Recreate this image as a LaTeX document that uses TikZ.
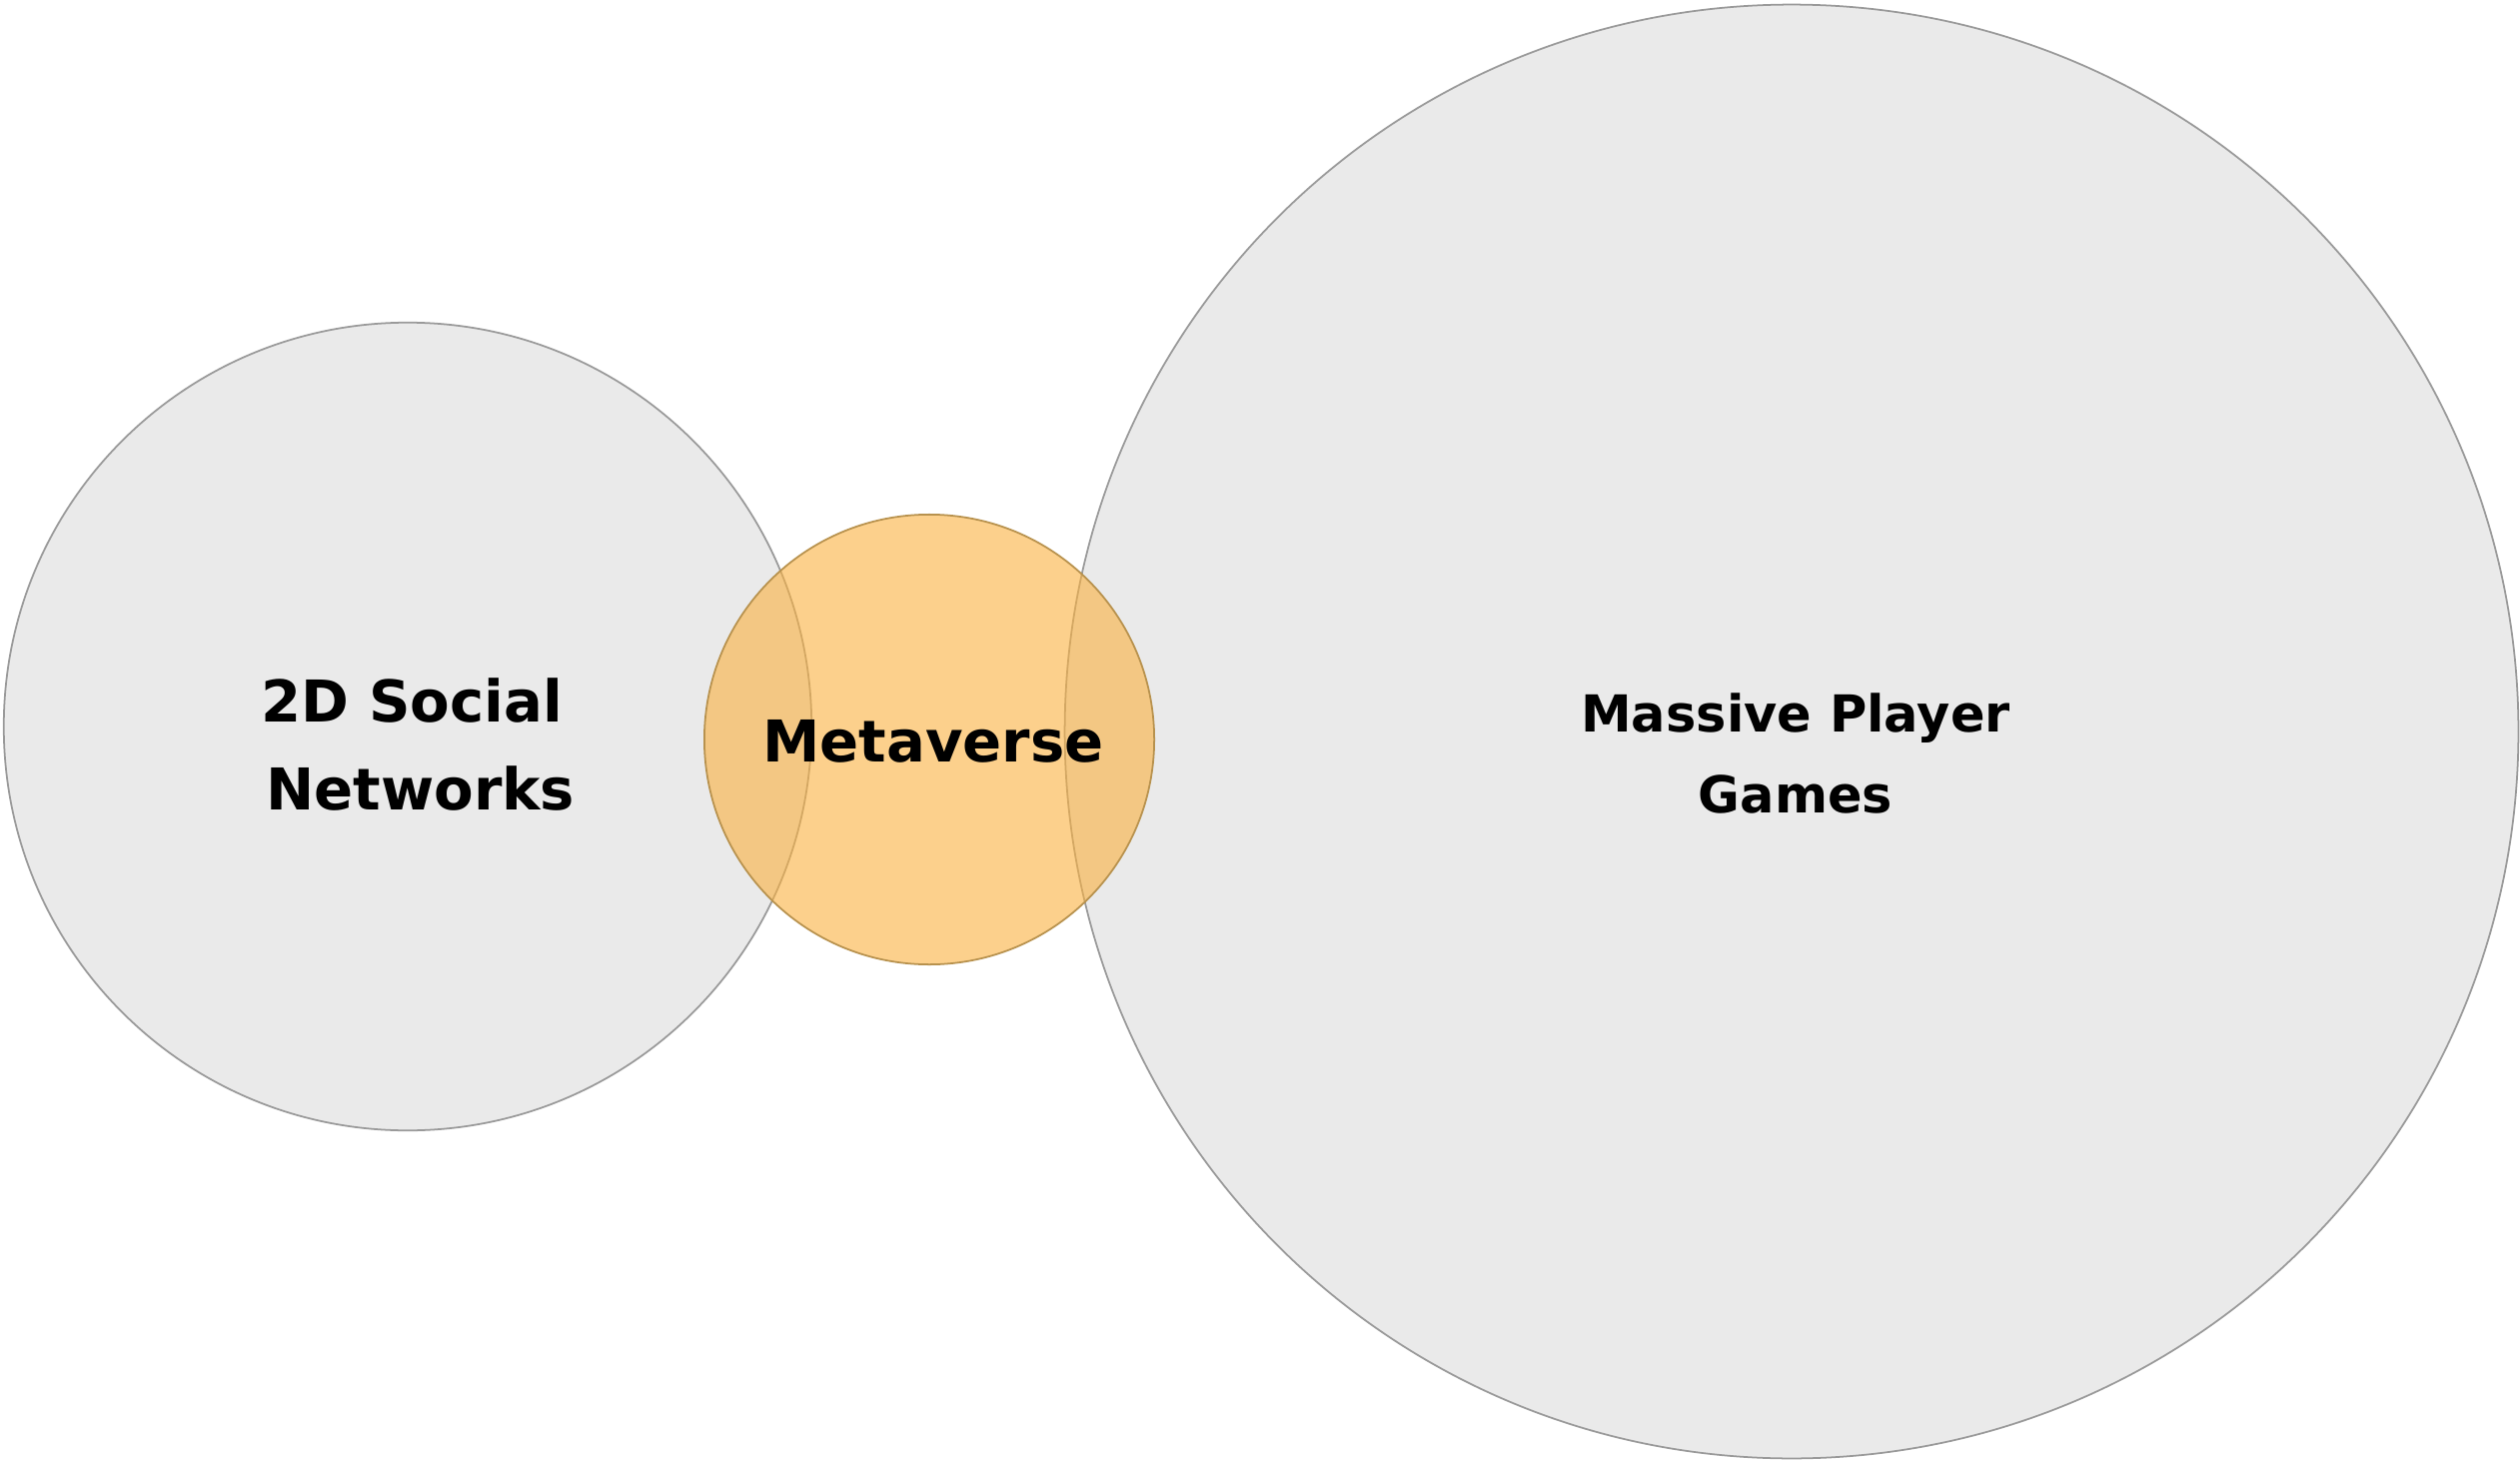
\documentclass[tikz,border=0pt]{standalone}
\usepackage{fontspec}
\setmainfont{DejaVu Sans}
\usepackage{tikz}
\definecolor{ringgrey}{HTML}{EAEAEA}
\definecolor{ringline}{HTML}{9A9A9A}
\definecolor{metafill}{RGB}{250,177,63}
\definecolor{metaline}{HTML}{B8924E}
\begin{document}
\begin{tikzpicture}[
    x=0.01cm, y=-0.01cm,
    every node/.style={
        circle,
        inner sep=0pt,
        align=center
    },
    ring/.style={
        draw=ringline,
        fill=ringgrey,
        line width=0.5pt
    },
    metaring/.style={
        draw=metaline,
        fill=metafill,
        fill opacity=0.6,
        line width=0.5pt,
        minimum size=4.5cm
    },
    bigtext/.style={font=\bfseries\fontsize{16.4}{25}\selectfont},
    smalltext/.style={font=\bfseries\fontsize{14.5}{23}\selectfont}
]
\useasboundingbox (0,0) rectangle (2522,1464);

% Circles
\node[ring, minimum size=8.08cm] (social) at (408,727) {};
\node[ring, minimum size=14.54cm] (games) at (1793,732) {};
\node[metaring] (meta) at (930,740) {};

% Labels
\node[bigtext] (socialtext) at (412,745) {2D Social\\ \hspace*{0.3em}Networks};
\node[bigtext] (metatext) at (934,742) {Metaverse};
\node[smalltext] (gamestext) at (1797,754) {Massive Player\\Games};

\end{tikzpicture}
\end{document}
